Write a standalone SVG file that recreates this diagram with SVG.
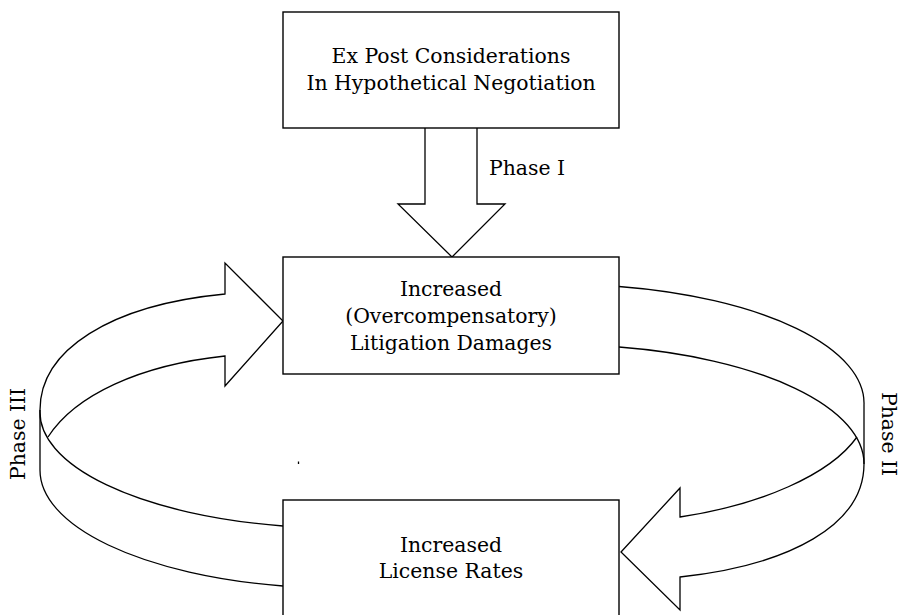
<svg xmlns="http://www.w3.org/2000/svg" width="901" height="615" viewBox="0 0 901 615">
<style>
.box{fill:#fff;stroke:#000;stroke-width:1.4}
.ln{fill:none;stroke:#000;stroke-width:1.3;stroke-linejoin:miter}
text{font-family:"DejaVu Serif","Liberation Serif",serif;font-size:20.4px;fill:#000}
.c{text-anchor:middle}
</style>
<rect width="901" height="615" fill="#fff"/>
<g id="connectors">
  <g id="phase1-arrow">
    <path class="ln" d="M425,128 L425,204 L398,204 L452,257 L505,204 L477,204 L477,128"/>
    <text x="489" y="175">Phase I</text>
  </g>
  <g id="phase2-arrow">
    <path class="ln" d="M619,286.5 A304,119 0 0 1 864,405 L864,464 C864,525 790,565 680,577 L680,610 L621,552 L680,488 L680,517 C760,505 830,475 857,437"/>
    <path class="ln" d="M619,347 A304,119 0 0 1 864,464"/>
    <text class="c" transform="translate(882,434) rotate(90)">Phase II</text>
  </g>
  <g id="phase3-arrow">
    <path class="ln" d="M40,410 C40,350 110,305 225,294 L225,263 L283,321 L225,386 L225,356 C140,365 75,395 48,437"/>
    <path class="ln" d="M40,410 A302,116 0 0 0 283,526"/>
    <path class="ln" d="M40,410 L40,470 A302,118 0 0 0 283,586"/>
    <text class="c" transform="translate(25,434) rotate(-90)">Phase III</text>
  </g>
  <path class="ln" d="M298.5,461.5 L298.5,464" stroke-width="1"/>
</g>
<g id="node-expost">
  <rect class="box" x="283" y="12" width="336" height="116"/>
  <text class="c" x="451" y="63">Ex Post Considerations</text>
  <text class="c" x="451" y="90">In Hypothetical Negotiation</text>
</g>
<g id="node-litigation">
  <rect class="box" x="283" y="257" width="336" height="117"/>
  <text class="c" x="451" y="296">Increased</text>
  <text class="c" x="451" y="323">(Overcompensatory)</text>
  <text class="c" x="451" y="350">Litigation Damages</text>
</g>
<g id="node-license">
  <rect class="box" x="283" y="500" width="336" height="130"/>
  <text class="c" x="451" y="552">Increased</text>
  <text class="c" x="451" y="578">License Rates</text>
</g>
</svg>
